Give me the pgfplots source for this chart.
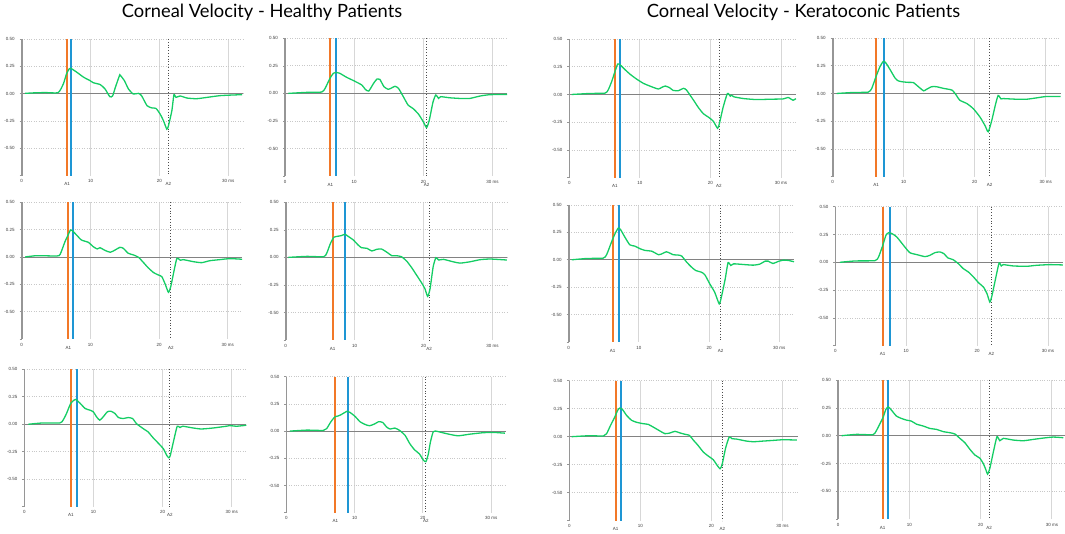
\documentclass[border=0pt]{standalone}
\usepackage{pgfplots}
\pgfplotsset{compat=1.18}
\usepackage{fontspec}
\setmainfont{Liberation Sans}
\newfontfamily\titlefont{Lato}
\definecolor{cgreen}{RGB}{20,205,100}
\definecolor{corange}{RGB}{242,120,40}
\definecolor{cblue}{RGB}{30,150,212}
\definecolor{gridgray}{RGB}{215,215,215}
\definecolor{dotgray}{RGB}{200,200,200}
\definecolor{axisgray}{RGB}{150,150,150}
\definecolor{zerogray}{RGB}{130,130,130}
\definecolor{labelgray}{RGB}{60,60,60}
\newcommand{\ticks}{\fontsize{4.5}{5}\selectfont}
\newcommand{\panel}[9]{%
\begin{axis}[
  at={(#1pt,#2pt)}, anchor=south west, scale only axis,
  width=#3pt, height=#4pt,
  xmin=0, xmax=#5, ymin=-0.75, ymax=0.5,
  axis lines=left, axis line style={-},
  x axis line style={draw=none},
  y axis line style={draw=none},
  xtick={0,10,20,30}, xticklabels={0,10,20,30 ms},
  ytick={-0.5,-0.25,0,0.25,0.5},
  yticklabel={\pgfmathprintnumber[fixed,fixed zerofill,precision=2,assume math mode=true]{\tick}},
  extra y ticks={-0.75}, extra y tick style={grid=none, yticklabel={}},
  extra x ticks={#6,#8}, extra x tick labels={A1,A2},
  extra x tick style={grid=none, major tick length=0pt, xticklabel style={yshift=-5pt}},
  xmajorgrids, ymajorgrids,
  x grid style={gridgray, line width=1pt},
  y grid style={dotgray, dotted, line width=0.7pt},
  tick label style={font=\ticks, text=labelgray},
  xticklabel style={yshift=1.5pt},
  yticklabel style={xshift=-1.5pt},
  xtick style={draw=none},
  ytick style={draw=axisgray, line width=0.6pt},
  tick align=outside, major tick length=2pt,
  clip=false,
]
\addplot[zerogray, line width=0.9pt] coordinates {(0,0) (#5,0)};
\addplot[axisgray, line width=1.6pt] coordinates {(0,0.5) (0,-0.75)};
\addplot[black!70, dotted, line width=0.8pt] coordinates {(#8,0.5) (#8,-0.75)};
\addplot[corange, line width=2pt] coordinates {(#6,0.5) (#6,-0.75)};
\addplot[cblue, line width=2pt] coordinates {(#7,0.5) (#7,-0.75)};
\addplot[cgreen, line width=1.3pt, smooth, tension=0.35] coordinates {#9};
\end{axis}}
\begin{document}
\begin{tikzpicture}[x=1pt,y=1pt]
\path[use as bounding box] (0,0) rectangle (1065,534);
\node[font=\titlefont\fontsize{18.3}{22}\selectfont] at (262,521.5) {Corneal Velocity - Healthy Patients};
\node[font=\titlefont\fontsize{18.3}{22}\selectfont] at (803.5,521.5) {Corneal Velocity - Keratoconic Patients};
\panel{21.7}{358.3}{221.1}{136.7}{32.1}{6.59}{7.12}{21.3}{(0.5,0.003)(2,0.008)(3.5,0.01)(5.3,0.01)(6.05,0.09)(6.5,0.18)(6.9,0.227)(7.1,0.233)(8.0,0.196)(9.0,0.15)(9.9,0.12)(10.4,0.10)(11.4,0.083)(12.1,0.043)(12.8,-0.028)(13.2,-0.02)(13.6,0.058)(14.2,0.166)(14.3,0.169)(14.9,0.12)(15.5,0.043)(16.2,-0.003)(16.95,0.003)(17.4,-0.018)(18.2,-0.11)(18.9,-0.13)(19.5,-0.135)(20.1,-0.187)(20.6,-0.25)(21.07,-0.325)(21.3,-0.295)(21.8,-0.156)(22.1,-0.01)(22.4,-0.034)(23.0,-0.021)(24.0,-0.04)(25.4,-0.046)(26.9,-0.034)(28.8,-0.018)(30.75,-0.012)(32.0,-0.009)}
\panel{285}{358}{222.1}{137.7}{32.1}{6.55}{7.32}{20.46}{(0.5,0)(3.1,0.009)(5.3,0.012)(5.8,0.046)(6.5,0.137)(7.0,0.183)(7.5,0.189)(7.9,0.183)(8.9,0.146)(9.9,0.116)(11.1,0.076)(11.6,0.037)(12.1,0.021)(12.8,0.091)(13.3,0.131)(13.7,0.128)(14.3,0.061)(14.9,0.037)(15.4,0.049)(15.9,0.064)(16.4,0.046)(17.1,-0.03)(17.8,-0.107)(18.5,-0.137)(19.3,-0.189)(20.0,-0.259)(20.46,-0.311)(20.85,-0.244)(21.4,-0.076)(21.8,-0.015)(22.2,-0.046)(22.5,-0.03)(23.8,-0.04)(25.3,-0.046)(26.7,-0.046)(28.2,-0.024)(29.6,-0.012)(32.1,-0.009)}
\panel{569.3}{356.3}{226.6}{138.7}{32.1}{6.47}{7.18}{21.2}{(0.33,0)(2.9,0.009)(5.05,0.012)(5.5,0.04)(6.0,0.116)(6.47,0.207)(6.85,0.274)(7.18,0.268)(7.9,0.223)(8.6,0.183)(9.5,0.14)(10.5,0.1)(11.4,0.076)(12.6,0.049)(13.1,0.064)(13.6,0.076)(14.2,0.061)(14.7,0.037)(15.45,0.034)(16.15,0.055)(16.6,0.04)(17.6,-0.052)(18.3,-0.119)(19.0,-0.174)(19.7,-0.204)(20.4,-0.241)(21.0,-0.305)(21.25,-0.265)(21.8,-0.113)(22.4,0.009)(22.8,-0.015)(23.0,-0.006)(23.3,-0.021)(24.7,-0.037)(26.5,-0.046)(28.4,-0.043)(30.3,-0.04)(31.0,-0.027)(31.7,-0.052)(32.1,-0.037)}
\panel{832.7}{357.3}{227.9}{138.7}{32.1}{6.1}{7.23}{22.1}{(0.56,0)(2.9,0.009)(5.0,0.012)(5.5,0.046)(6.1,0.152)(6.67,0.244)(7.14,0.29)(7.5,0.274)(8.1,0.213)(8.8,0.137)(9.25,0.113)(9.95,0.104)(10.66,0.1)(11.36,0.098)(12.07,0.061)(12.8,0.024)(13.2,0.037)(13.94,0.061)(14.6,0.061)(15.6,0.046)(16.8,0.03)(17.4,-0.015)(17.9,-0.061)(18.9,-0.091)(19.8,-0.137)(20.75,-0.213)(21.46,-0.29)(21.9,-0.345)(22.4,-0.244)(22.9,-0.107)(23.3,-0.018)(23.7,-0.049)(24.0,-0.046)(25.9,-0.052)(27.3,-0.052)(28.7,-0.04)(30.1,-0.027)(32.1,-0.027)}
\panel{21.7}{195}{220.5}{136.7}{32.1}{6.8}{7.52}{21.7}{(0.5,0)(2.2,0.012)(5.1,0.009)(5.6,0.024)(6.3,0.14)(6.8,0.207)(7.1,0.247)(7.4,0.238)(8.0,0.2)(8.7,0.155)(9.7,0.134)(10.4,0.095)(11.0,0.073)(11.4,0.085)(12.1,0.061)(12.9,0.043)(13.6,0.064)(14.3,0.088)(14.8,0.079)(15.5,0.034)(16.3,0.018)(17.0,-0.003)(17.7,-0.049)(18.4,-0.098)(19.2,-0.143)(19.9,-0.165)(20.4,-0.18)(20.9,-0.25)(21.36,-0.323)(21.7,-0.271)(22.2,-0.119)(22.6,-0.012)(23.1,-0.03)(23.5,-0.024)(25.0,-0.043)(26.2,-0.052)(27.4,-0.034)(28.9,-0.024)(30.3,-0.015)(32.1,-0.021)}
\panel{285.7}{194}{221.2}{137.7}{32.1}{6.82}{8.56}{20.8}{(0.4,0)(3.05,0.009)(5.5,0.006)(5.95,0.037)(6.5,0.128)(7.0,0.183)(7.6,0.192)(8.1,0.198)(8.6,0.21)(9.1,0.189)(9.8,0.159)(10.5,0.113)(11.0,0.088)(11.8,0.082)(12.5,0.058)(13.2,0.073)(13.9,0.076)(14.7,0.046)(15.4,0.015)(16.1,0.015)(16.8,0.006)(17.56,-0.034)(18.3,-0.095)(19.0,-0.162)(19.7,-0.229)(20.2,-0.284)(20.6,-0.354)(20.95,-0.284)(21.4,-0.085)(21.8,-0.003)(22.2,-0.024)(22.9,-0.018)(24.3,-0.04)(25.3,-0.052)(26.75,-0.04)(28.2,-0.021)(29.7,-0.015)(32.1,-0.024)}
\panel{568.7}{192}{225.3}{137}{32.1}{6.27}{7.12}{21.64}{(0.43,0)(2.6,0.012)(4.9,0.015)(5.4,0.046)(6.1,0.162)(6.6,0.238)(7.07,0.29)(7.4,0.274)(8.0,0.207)(8.7,0.137)(9.4,0.125)(10.2,0.1)(10.9,0.085)(11.8,0.079)(12.8,0.046)(13.2,0.052)(13.9,0.073)(14.4,0.061)(14.9,0.046)(15.6,0.043)(16.1,0.034)(16.8,-0.021)(17.5,-0.067)(18.1,-0.098)(18.9,-0.113)(19.4,-0.137)(20.1,-0.22)(20.8,-0.296)(21.45,-0.402)(21.8,-0.326)(22.3,-0.174)(22.7,-0.027)(23.1,-0.052)(23.5,-0.037)(24.9,-0.043)(26.3,-0.049)(27.2,-0.04)(28.0,-0.012)(28.4,-0.012)(29.1,-0.034)(29.85,-0.015)(30.6,-0.003)(31.3,-0.006)(32.1,-0.018)}
\panel{835.3}{188.3}{227.6}{139}{32.1}{6.68}{7.71}{22.0}{(0.66,0)(2.8,0.012)(5.6,0.015)(6.1,0.048)(6.7,0.154)(7.15,0.244)(7.5,0.265)(7.95,0.259)(8.65,0.229)(9.6,0.154)(10.5,0.087)(11.5,0.069)(12.65,0.051)(13.35,0.063)(14.06,0.087)(14.76,0.093)(15.3,0.078)(15.9,0.039)(16.6,0.024)(17.35,-0.012)(18.05,-0.057)(18.76,-0.087)(19.5,-0.133)(20.2,-0.184)(20.9,-0.223)(21.4,-0.283)(21.8,-0.358)(22.1,-0.298)(22.6,-0.148)(23.1,-0.006)(23.4,-0.033)(23.7,-0.021)(25.1,-0.033)(27.0,-0.036)(28.4,-0.027)(30.3,-0.021)(32.1,-0.024)}
\panel{24.3}{27.3}{222.1}{137.4}{32.1}{6.74}{7.61}{21.04}{(0.58,0)(2.7,0.012)(5.15,0.012)(5.6,0.037)(6.1,0.098)(6.7,0.189)(7.2,0.22)(7.46,0.226)(8.0,0.195)(8.8,0.143)(9.5,0.128)(9.97,0.113)(10.45,0.067)(10.9,0.037)(11.4,0.067)(12.0,0.113)(12.5,0.119)(13.1,0.098)(13.6,0.061)(14.3,0.052)(15.0,0.061)(15.65,0.052)(16.2,0.006)(16.7,-0.018)(17.4,-0.049)(17.9,-0.07)(18.6,-0.122)(19.35,-0.171)(20.1,-0.223)(20.6,-0.284)(20.9,-0.305)(21.1,-0.284)(21.6,-0.146)(22.1,-0.018)(22.5,-0.03)(22.9,-0.018)(24.4,-0.034)(25.6,-0.043)(27.3,-0.034)(29.2,-0.018)(29.7,-0.012)(30.7,-0.018)(32.1,-0.009)}
\panel{286.3}{21.3}{219.2}{136}{32.1}{7.17}{9.02}{20.44}{(0.54,0)(3.0,0.009)(5.4,0.006)(5.9,0.022)(6.5,0.083)(7.1,0.13)(7.6,0.139)(8.1,0.154)(8.9,0.182)(9.3,0.173)(10.05,0.136)(10.8,0.086)(11.5,0.062)(12.2,0.049)(13.0,0.068)(13.5,0.086)(14.1,0.08)(14.7,0.037)(15.2,0.019)(15.9,0.028)(16.6,0.006)(17.4,-0.04)(18.1,-0.117)(18.8,-0.173)(19.5,-0.21)(20.05,-0.265)(20.44,-0.281)(20.8,-0.21)(21.1,-0.102)(21.5,-0.009)(21.9,0.0)(22.7,-0.012)(24.0,-0.031)(25.2,-0.043)(26.9,-0.028)(28.8,-0.015)(30.3,-0.012)(32.0,-0.019)}
\panel{569.3}{13.3}{228.2}{140}{32.1}{6.52}{7.22}{21.52}{(0.33,0)(2.9,0.009)(4.8,0.006)(5.25,0.027)(5.8,0.101)(6.4,0.176)(6.8,0.235)(7.1,0.256)(7.5,0.241)(8.06,0.19)(8.77,0.146)(9.5,0.128)(10.4,0.116)(11.1,0.11)(11.8,0.086)(12.75,0.051)(13.45,0.027)(14.16,0.033)(14.86,0.048)(15.6,0.033)(16.3,0.021)(16.9,0.012)(17.4,-0.027)(18.1,-0.077)(18.85,-0.137)(19.55,-0.173)(20.25,-0.205)(20.7,-0.247)(21.2,-0.286)(21.5,-0.247)(22.0,-0.098)(22.5,-0.003)(22.9,-0.018)(23.5,-0.021)(24.9,-0.039)(25.9,-0.045)(27.3,-0.039)(28.7,-0.033)(30.1,-0.027)(32.0,-0.03)}
\panel{838}{14.7}{226.7}{139.3}{31.8}{6.26}{7.06}{21.2}{(0.5,0)(2.6,0.012)(4.86,0.009)(5.3,0.036)(5.9,0.11)(6.36,0.17)(6.7,0.235)(7.06,0.259)(7.5,0.229)(8.2,0.176)(8.9,0.155)(9.6,0.14)(10.3,0.131)(11.0,0.104)(12.0,0.086)(12.9,0.065)(13.8,0.057)(14.8,0.036)(15.7,0.027)(16.4,0.015)(17.1,-0.024)(17.8,-0.063)(18.5,-0.122)(19.2,-0.173)(19.9,-0.202)(20.4,-0.253)(20.75,-0.307)(20.98,-0.345)(21.3,-0.292)(21.8,-0.143)(22.3,-0.009)(22.7,-0.045)(23.2,-0.024)(24.6,-0.039)(26.0,-0.045)(27.4,-0.033)(28.8,-0.021)(30.2,-0.012)(31.6,-0.018)}
\end{tikzpicture}
\end{document}
